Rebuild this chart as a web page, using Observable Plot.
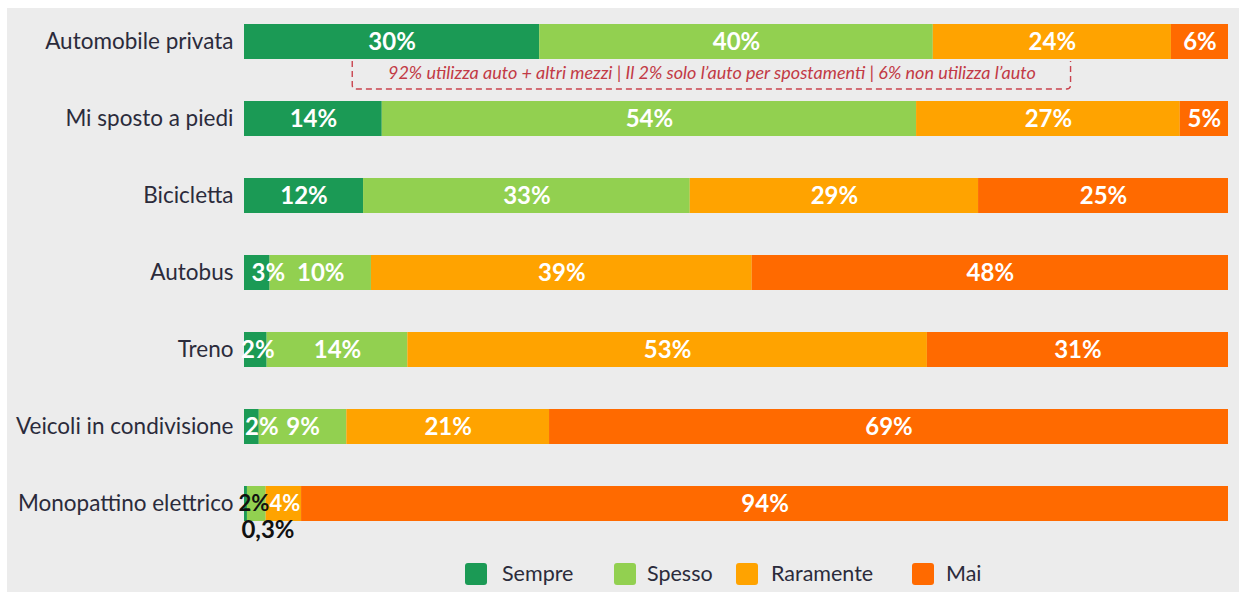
<!DOCTYPE html>
<html>
<head>
<meta charset="utf-8">
<script src="https://cdn.jsdelivr.net/npm/d3@7"></script>
<script src="https://cdn.jsdelivr.net/npm/@observablehq/plot@0.6"></script>
<style>
  html, body { margin: 0; padding: 0; background: #ffffff; }
  #panel { position: absolute; left: 7px; top: 8px; width: 1232px; height: 584px; background: #ececec; overflow: hidden; font-family: Lato, "Open Sans", sans-serif; }
  #chart { position: absolute; left: 0; top: 0; }
  .sw { position: absolute; width: 22px; height: 22px; border-radius: 3px; top: 555px; }
  .lt { position: absolute; top: 552px; font-size: 21.5px; line-height: 26px; color: #2b2b3b; }
</style>
</head>
<body>
<div id="panel">
  <div id="chart"></div>
  <div id="legend"></div>
</div>
<script>
// ---- data ----
const categories = ["Automobile privata", "Mi sposto a piedi", "Bicicletta", "Autobus", "Treno", "Veicoli in condivisione", "Monopattino elettrico"];
const series = ["Sempre", "Spesso", "Raramente", "Mai"];
const colors = ["#1b9a55", "#92d050", "#ffa300", "#ff6a00"];

const sempre    = [30.0, 14.0, 12.1,  2.6,  2.3,  1.5,  0.3];
const spesso    = [40.0, 54.3, 33.2, 10.3, 14.3,  8.9,  1.9];
const raramente = [24.2, 26.8, 29.3, 38.7, 52.8, 20.6,  3.6];
const mai       = [ 5.8,  4.9, 25.4, 48.4, 30.6, 69.0, 94.2];

const sempreLabels    = ["30%", "14%", "12%", "3%", "2%", "2%", "0,3%"];
const spessoLabels    = ["40%", "54%", "33%", "10%", "14%", "9%", "2%"];
const raramenteLabels = ["24%", "27%", "29%", "39%", "53%", "21%", "4%"];
const maiLabels       = ["6%", "5%", "25%", "48%", "31%", "69%", "94%"];

const annotationText = "92% utilizza auto + altri mezzi | Il 2% solo l’auto per spostamenti | 6% non utilizza l’auto";
const annotationCategory = "Automobile privata";
const annotationRange = [11, 84];

(function () {
// ---- build table ----
const valueSets = [sempre, spesso, raramente, mai];
const labelSets = [sempreLabels, spessoLabels, raramenteLabels, maiLabels];
const rows = [];
categories.forEach((cat, i) => {
  let acc = 0;
  series.forEach((s, j) => {
    const v = valueSets[j][i];
    rows.push({cat, series: s, value: v, x1: acc, x2: acc + v, mid: acc + v / 2, label: labelSets[j][i]});
    acc += v;
  });
});

// label placement tweaks (styling only)
const tweaks = {
  "Autobus|Sempre": {dx: 11},
  "Treno|Sempre": {dx: 2},
  "Veicoli in condivisione|Sempre": {dx: 10},
  "Monopattino elettrico|Sempre": {dx: 22, dy: 26, fill: "#111"},
  "Monopattino elettrico|Spesso": {dx: -3, fill: "#111", fontSize: 22},
  "Monopattino elettrico|Raramente": {dx: 1, fontSize: 22}
};
const key = d => d.cat + "|" + d.series;

const labelFont = {fontSize: 24, fontWeight: 700, fontFamily: "Lato, sans-serif"};
const textMarks = [
  Plot.text(rows, {filter: d => !tweaks[key(d)], x: "mid", y: "cat", text: "label", fill: "white", ...labelFont})
];
for (const [k, t] of Object.entries(tweaks)) {
  textMarks.push(Plot.text(rows, {filter: d => key(d) === k, x: "mid", y: "cat", text: "label",
    fill: t.fill || "white", dx: t.dx || 0, dy: t.dy || 0, ...labelFont, fontSize: t.fontSize || labelFont.fontSize}));
}

const chart = Plot.plot({
  width: 1232,
  height: 545,
  marginLeft: 237,
  marginRight: 11,
  marginTop: 14,
  marginBottom: 31,
  style: {background: "transparent", fontFamily: "Lato, sans-serif", fontSize: "22.5px", color: "#2b2b3b"},
  x: {domain: [0, 100], axis: null},
  y: {domain: categories, paddingInner: 0.5465, paddingOuter: 0, label: null, tickSize: 0, tickPadding: 11},
  color: {domain: series, range: colors},
  marks: [
    Plot.barX(rows, {x1: "x1", x2: "x2", y: "cat", fill: "series", inset: 0}),
    ...textMarks,
    Plot.text([annotationText], {x: (annotationRange[0] + annotationRange[1]) / 2, y: () => annotationCategory,
      text: d => d, dy: 31, fill: "#c23a45", fontStyle: "italic", fontSize: 18, fontFamily: "Lato, sans-serif"})
  ]
});
document.getElementById("chart").appendChild(chart);

// dashed annotation box built from the chart's scales
const xs = chart.scale("x"), ys = chart.scale("y");
const yTop = ys.apply(annotationCategory) + ys.bandwidth;
const yBottom = yTop + 30;
const xLeft = xs.apply(annotationRange[0]), xRight = xs.apply(annotationRange[1]);
const r = 4;
const path = document.createElementNS("http://www.w3.org/2000/svg", "path");
path.setAttribute("d", `M${xLeft},${yTop + 2}V${yBottom - r}Q${xLeft},${yBottom} ${xLeft + r},${yBottom}H${xRight - r}Q${xRight},${yBottom} ${xRight},${yBottom - r}V${yTop + 2}`);
path.setAttribute("fill", "none");
path.setAttribute("stroke", "#c9434e");
path.setAttribute("stroke-width", "1.4");
path.setAttribute("stroke-dasharray", "6,4");
chart.appendChild(path);

// legend
const legendPos = [[458, 495], [607, 640], [729, 764], [905, 939]];
const legend = document.getElementById("legend");
series.forEach((s, i) => {
  const sw = document.createElement("div");
  sw.className = "sw"; sw.style.left = legendPos[i][0] + "px"; sw.style.background = colors[i];
  const t = document.createElement("div");
  t.className = "lt"; t.style.left = legendPos[i][1] + "px"; t.textContent = s;
  legend.appendChild(sw); legend.appendChild(t);
});
})();
</script>
</body>
</html>
